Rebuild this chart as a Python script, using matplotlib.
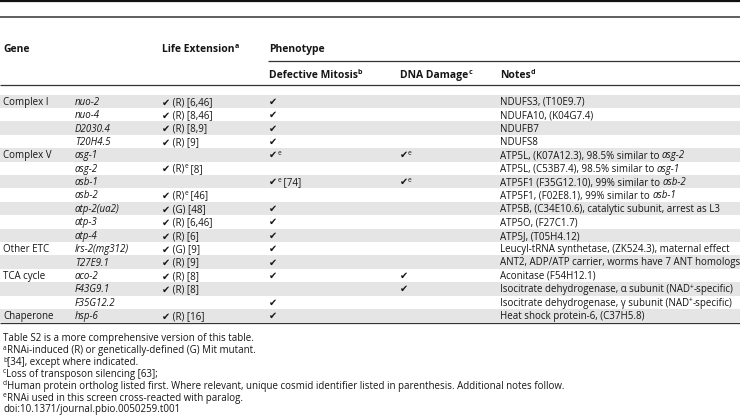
import re
import matplotlib
matplotlib.use("Agg")
import matplotlib.pyplot as plt
from matplotlib.patches import Rectangle

W, H = 740, 417
FAM = ['Open Sans', 'DejaVu Sans']
CK = '\u2714'

headers_top = ["Gene", "Life Extension^a^", "Phenotype"]
headers_sub = ["Defective Mitosis^b^", "DNA Damage^c^", "Notes^d^"]

groups = ["Complex I", "", "", "", "Complex V", "", "", "", "", "", "",
          "Other ETC", "", "TCA cycle", "", "", "Chaperone"]
genes = ["nuo-2", "nuo-4", "D2030.4", "T20H4.5", "asg-1", "asg-2", "asb-1", "asb-2",
         "atp-2(ua2)", "atp-3", "atp-4", "lrs-2(mg312)", "T27E9.1", "aco-2",
         "F43G9.1", "F35G12.2", "hsp-6"]
life_ext = [CK + " (R) [6,46]", CK + " (R) [8,46]", CK + " (R) [8,9]", CK + " (R) [9]", "",
            CK + " (R)^e^ [8]", "", CK + " (R)^e^ [46]", CK + " (G) [48]", CK + " (R) [6,46]",
            CK + " (R) [6]", CK + " (G) [9]", CK + " (R) [9]", CK + " (R) [8]", CK + " (R) [8]",
            "", CK + " (R) [16]"]
mitosis = [CK, CK, CK, CK, CK + "^e^", "", CK + "^e^ [74]", "", CK, CK, CK, CK, CK, CK,
           "", CK, CK]
dna_damage = ["", "", "", "", CK + "^e^", "", CK + "^e^", "", "", "", "", "", "", CK, CK, "", ""]
notes = ["NDUFS3, (T10E9.7)", "NDUFA10, (K04G7.4)", "NDUFB7", "NDUFS8",
         "ATP5L, (K07A12.3), 98.5% similar to *asg-2*",
         "ATP5L, (C53B7.4), 98.5% similar to *asg-1*",
         "ATP5F1 (F35G12.10), 99% similar to *asb-2*",
         "ATP5F1, (F02E8.1), 99% similar to *asb-1*",
         "ATP5B, (C34E10.6), catalytic subunit, arrest as L3",
         "ATP5O, (F27C1.7)", "ATP5J, (T05H4.12)",
         "Leucyl-tRNA synthetase, (ZK524.3), maternal effect",
         "ANT2, ADP/ATP carrier, worms have 7 ANT homologs",
         "Aconitase (F54H12.1)",
         "Isocitrate dehydrogenase, \u03b1 subunit (NAD^+^-specific)",
         "Isocitrate dehydrogenase, \u03b3 subunit (NAD^+^-specific)",
         "Heat shock protein-6, (C37H5.8)"]
footnotes = ["Table S2 is a more comprehensive version of this table.",
             "^a^RNAi-induced (R) or genetically-defined (G) Mit mutant.",
             "^b^[34], except where indicated.",
             "^c^Loss of transposon silencing [63];",
             "^d^Human protein ortholog listed first. Where relevant, unique cosmid identifier listed in parenthesis. Additional notes follow.",
             "^e^RNAi used in this screen cross-reacted with paralog.",
             "doi:10.1371/journal.pbio.0050259.t001"]

fig = plt.figure(figsize=(W / 100, H / 100), dpi=100)
ax = fig.add_axes([0, 0, 1, 1])
ax.set_xlim(0, W)
ax.set_ylim(H, 0)
ax.axis('off')
fig.canvas.draw()
renderer = fig.canvas.get_renderer()

TXT = '#161616'
FS = 7.0
HFS = 7.5


def width_of(s, **kw):
    t = ax.text(0, 0, '|' + s + '|', **kw)
    t2 = ax.text(0, 0, '||', **kw)
    w = t.get_window_extent(renderer).width - t2.get_window_extent(renderer).width
    t.remove(); t2.remove()
    return w


def rich(x, y, s, size=FS, weight='normal', style='normal'):
    parts = re.split(r'(\*[^*]+\*|\^[^^]+\^)', s)
    for p in parts:
        if not p:
            continue
        st, sz, dy = style, size, 0
        if p.startswith('*'):
            p = p[1:-1]; st = 'italic'
        elif p.startswith('^'):
            p = p[1:-1]; sz = size * 0.68; dy = -3.6
        kw = dict(fontsize=sz, fontstyle=st, fontweight=weight, family=FAM, color=TXT)
        ax.text(x, y + dy, p, va='baseline', ha='left', **kw)
        x += width_of(p, **kw)


# layout
col_x = [3, 75, 162, 269, 400, 500]
row_top0, row_h = 94.6, 13.4
n = len(genes)

for i in range(n):
    top = row_top0 + i * row_h
    if i % 2 == 0:
        ax.add_patch(Rectangle((0, top), W, row_h, facecolor='#e5e5e5', edgecolor='none', zorder=0))
    yb = top + row_h / 2 + 3.4
    rich(col_x[0], yb, groups[i])
    rich(col_x[1], yb, genes[i], style='italic')
    rich(col_x[2], yb, life_ext[i])
    rich(col_x[3], yb, mitosis[i])
    rich(col_x[4], yb, dna_damage[i])
    rich(col_x[5], yb, notes[i])

# header
rich(col_x[0], 51.5, headers_top[0], size=HFS, weight='bold')
rich(col_x[2], 51.5, headers_top[1], size=HFS, weight='bold')
rich(col_x[3], 51.5, headers_top[2], size=HFS, weight='bold')
rich(col_x[3], 77.5, headers_sub[0], size=HFS, weight='bold')
rich(col_x[4], 77.5, headers_sub[1], size=HFS, weight='bold')
rich(col_x[5], 77.5, headers_sub[2], size=HFS, weight='bold')

# rules
ax.plot([0, W], [1, 1], color='#111111', lw=1.6, solid_capstyle='butt')
ax.plot([0, W], [17, 17], color='#333333', lw=1.1, solid_capstyle='butt')
ax.plot([268, W], [61, 61], color='#333333', lw=0.9, solid_capstyle='butt')
ax.plot([0, W], [85, 85], color='#333333', lw=0.9, solid_capstyle='butt')
bottom = row_top0 + n * row_h + 1
ax.plot([0, W], [bottom, bottom], color='#333333', lw=0.9, solid_capstyle='butt')

# footnotes
for k, f in enumerate(footnotes):
    rich(3, 341.5 + k * 11.8, f)

fig.savefig('out.png', dpi=100)
